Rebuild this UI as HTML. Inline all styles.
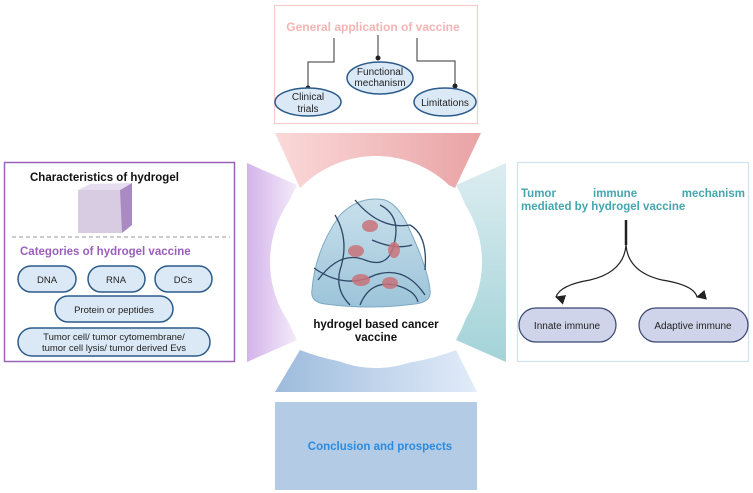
<!DOCTYPE html>
<html><head><meta charset="utf-8"><style>
html,body{margin:0;padding:0;background:#fff;}
svg{display:block;font-family:"Liberation Sans",Arial,sans-serif;}
</style></head><body>
<svg width="753" height="493" viewBox="0 0 753 493" xmlns="http://www.w3.org/2000/svg">
<defs>
<linearGradient id="gt" x1="0" x2="1"><stop offset="0" stop-color="#fbd9d9"/><stop offset="1" stop-color="#e9a3a5"/></linearGradient>
<linearGradient id="gl" x1="0" x2="1"><stop offset="0" stop-color="#d3b3ea"/><stop offset="1" stop-color="#f4ebfa"/></linearGradient>
<linearGradient id="gr" x1="0" x2="0" y1="0" y2="1"><stop offset="0" stop-color="#dcedf1"/><stop offset="1" stop-color="#a3d3d8"/></linearGradient>
<linearGradient id="gb" x1="0" x2="1"><stop offset="0" stop-color="#9dbbdc"/><stop offset="1" stop-color="#e2ecfa"/></linearGradient>
<linearGradient id="gel" x1="0" x2="0" y1="0" y2="1"><stop offset="0" stop-color="#c9e0ec"/><stop offset="1" stop-color="#9cc4d9"/></linearGradient>
<marker id="ah" markerWidth="12" markerHeight="12" refX="5" refY="9" orient="auto-start-reverse" markerUnits="userSpaceOnUse"><path d="M0,0 L10,0 L5,10 z" fill="#222"/></marker>
</defs>

<path d="M275,133 L481,133 L455,188 Q378,150 300,188 Z" fill="url(#gt)"/>
<path d="M247,163 L297,185 Q255,262 297,340 L247,362 Z" fill="url(#gl)"/>
<path d="M506,163 L456,185 Q498,262 456,340 L506,362 Z" fill="url(#gr)"/>
<path d="M275,392 L300,350 Q378,380 456,350 L477,392 Z" fill="url(#gb)"/>
<circle cx="376" cy="262" r="106" fill="#fff"/>

<path d="M312,290 Q315,250 340,215 Q360,195 385,200 Q400,205 412,235 Q428,270 430,290 Q432,302 415,304 Q370,310 325,304 Q310,302 312,290 Z" fill="url(#gel)" stroke="#7ea9c4" stroke-width="1"/>
<g fill="none" stroke="#2f4767" stroke-width="1.3">
<path d="M318,280 Q340,250 365,260 Q390,270 395,240 Q400,215 380,205"/>
<path d="M335,215 Q350,240 340,270 Q335,290 350,305"/>
<path d="M355,200 Q380,230 410,225 Q428,235 425,270"/>
<path d="M314,268 Q345,290 375,275 Q405,265 425,295"/>
<path d="M360,305 Q370,280 395,285 Q415,290 418,302"/>
<path d="M372,240 Q395,250 412,245"/>
</g>
<g fill="#c9737b" opacity="0.85">
<ellipse cx="370" cy="226" rx="8" ry="6"/><ellipse cx="356" cy="251" rx="8" ry="6"/>
<ellipse cx="394" cy="250" rx="6" ry="8"/><ellipse cx="361" cy="280" rx="9" ry="6"/><ellipse cx="390" cy="283" rx="8" ry="6"/>
</g>
<text x="376" y="328" font-size="11.5" font-weight="bold" text-anchor="middle" fill="#111">hydrogel based cancer</text>
<text x="376" y="341" font-size="11.5" font-weight="bold" text-anchor="middle" fill="#111">vaccine</text>

<rect x="274.5" y="5.5" width="203" height="118" fill="#fff" stroke="#f7cccc" stroke-width="1.2"/>
<text x="373" y="31" font-size="12" font-weight="bold" text-anchor="middle" fill="#f4b4b4">General application of vaccine</text>
<g fill="none" stroke="#333" stroke-width="1">
<path d="M334,38 V62 H308 V88"/><path d="M378,35 V58"/><path d="M417,38 V61 H455 V86"/>
</g>
<g fill="#222"><circle cx="308" cy="88" r="2.5"/><circle cx="378" cy="58" r="2.5"/><circle cx="455" cy="86" r="2.5"/></g>
<g fill="#dbe9f7" stroke="#2c5b8a" stroke-width="1.5">
<ellipse cx="308" cy="102" rx="33" ry="14"/><ellipse cx="380" cy="78" rx="33" ry="16"/><ellipse cx="445" cy="102" rx="31" ry="14"/>
</g>
<g font-size="10" fill="#222" text-anchor="middle">
<text x="308" y="100">Clinical</text><text x="308" y="112">trials</text>
<text x="380" y="75">Functional</text><text x="380" y="86">mechanism</text>
<text x="445" y="106">Limitations</text>
</g>

<rect x="4.5" y="162.5" width="230" height="199" fill="#fff" stroke="#9b62b8" stroke-width="1.5"/>
<text x="30" y="181" font-size="11.5" font-weight="bold" fill="#111">Characteristics of hydrogel</text>
<path d="M78,190 L120,190 L132,183 L132,225 L122,233 L78,233 Z" fill="#d8cce3"/>
<path d="M120,190 L132,183 L132,225 L122,233 Z" fill="#a98bc2"/>
<path d="M78,190 L90,184 L132,183 L120,190 Z" fill="#e6dcef"/>
<line x1="12" y1="237" x2="230" y2="237" stroke="#999" stroke-dasharray="4,3"/>
<text x="20" y="255" font-size="11.5" font-weight="bold" fill="#9b5fbb">Categories of hydrogel vaccine</text>
<g fill="#dbe9f7" stroke="#2c5b8a" stroke-width="1.5">
<rect x="18" y="266" width="58" height="26" rx="13"/><rect x="88" y="266" width="57" height="26" rx="13"/><rect x="155" y="266" width="57" height="26" rx="13"/>
<rect x="55" y="296" width="118" height="26" rx="13"/><rect x="18" y="328" width="192" height="28" rx="14"/>
</g>
<g font-size="9.5" fill="#222" text-anchor="middle">
<text x="47" y="283">DNA</text><text x="116" y="283">RNA</text><text x="183" y="283">DCs</text>
<text x="114" y="313">Protein or peptides</text>
<text x="114" y="340">Tumor cell/ tumor cytomembrane/</text>
<text x="114" y="351">tumor cell lysis/ tumor derived  Evs</text>
</g>

<rect x="517.5" y="162.5" width="231" height="199" fill="#fff" stroke="#cfe3f2" stroke-width="1.2"/>
<g font-size="11.5" font-weight="bold" fill="#44a6ae">
<text x="521" y="197">Tumor</text><text x="593" y="197">immune</text><text x="745" y="197" text-anchor="end">mechanism</text>
<text x="521" y="210">mediated by hydrogel vaccine</text>
</g>
<path d="M626,220 V245" stroke="#222" stroke-width="2.5"/>
<path d="M626,245 Q624,272 590,280 Q560,285 556,297" fill="none" stroke="#222" stroke-width="1.2" marker-end="url(#ah)"/>
<path d="M626,245 Q628,272 662,280 Q694,285 697,297" fill="none" stroke="#222" stroke-width="1.2" marker-end="url(#ah)"/>
<g fill="#cfd4ea" stroke="#3a4670" stroke-width="1.2">
<rect x="519" y="308" width="97" height="34" rx="17"/><rect x="639" y="308" width="109" height="34" rx="17"/>
</g>
<g font-size="10" fill="#222" text-anchor="middle"><text x="567" y="329">Innate immune</text><text x="693" y="329">Adaptive immune</text></g>

<rect x="275" y="402" width="202" height="88" fill="#b3cbe5"/>
<text x="380" y="450" font-size="11.5" font-weight="bold" text-anchor="middle" fill="#2a8be0">Conclusion and prospects</text>
</svg>
</body></html>
